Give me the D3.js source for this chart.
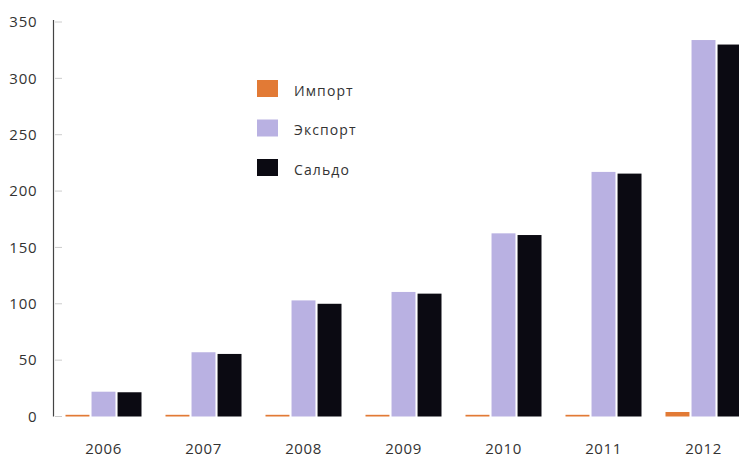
<!DOCTYPE html>
<html><head><meta charset="utf-8">
<script src="https://cdn.jsdelivr.net/npm/d3@7"></script>
<style>html,body{margin:0;padding:0;background:#fff;}svg{display:block;}</style>
</head><body>
<svg id="c" width="739" height="458"></svg>
<script>
const years = ["2006","2007","2008","2009","2010","2011","2012"];
const importVals = [1.5, 1.5, 1.5, 1.5, 1.5, 1.5, 4];
const exportVals = [22, 57, 103, 110.5, 162.5, 217, 334];
const saldoVals  = [21.5, 55.5, 100, 109, 161, 215.5, 330];
const seriesNames = ["Импорт", "Экспорт", "Сальдо"];
const seriesColors = ["#e27a35", "#b9b1e2", "#0b0a12"];
const yTicks = [0, 50, 100, 150, 200, 250, 300, 350];

const series = [importVals, exportVals, saldoVals];
const svg = d3.select("#c");
const font = "'Open Sans', 'DejaVu Sans', sans-serif";

const y = d3.scaleLinear().domain([0, 350]).range([416.5, 22]);
const x = d3.scaleBand().domain(years).range([53.5, 753.5]).padding(0);
const xi = d3.scaleBand().domain(d3.range(3)).range([12, 88]).paddingInner(0.08).paddingOuter(0);

// bars
const groups = svg.append("g").selectAll("g").data(years).join("g")
  .attr("transform", d => `translate(${x(d)},0)`);
groups.selectAll("rect").data((d, i) => series.map((s, k) => ({k, v: s[i]})))
  .join("rect")
  .attr("x", d => xi(d.k))
  .attr("width", xi.bandwidth())
  .attr("y", d => y(d.v))
  .attr("height", d => y(0) - y(d.v))
  .attr("fill", d => seriesColors[d.k]);

// y axis
const yAxis = d3.axisLeft(y).tickValues(yTicks).tickSize(0).tickPadding(16);
const ga = svg.append("g").attr("transform", "translate(53.5,0)").call(yAxis);
ga.select(".domain").attr("d", "M0,20V416.5").attr("stroke", "#444").attr("stroke-width", 1.2);
ga.selectAll("text").attr("font-family", font).attr("font-size", 15)
  .attr("letter-spacing", 0.8).attr("fill", "#333");
// faint tick marks to the right
svg.append("g").selectAll("line").data(yTicks).join("line")
  .attr("x1", 55).attr("x2", 62)
  .attr("y1", d => y(d)).attr("y2", d => y(d))
  .attr("stroke", "#ccc").attr("stroke-width", 1);

// x axis labels
const xAxis = d3.axisBottom(x).tickSize(0).tickPadding(0);
const gx = svg.append("g").attr("transform", "translate(0,443)").call(xAxis);
gx.select(".domain").remove();
gx.selectAll("text").attr("font-family", font).attr("font-size", 15)
  .attr("letter-spacing", 0.6).attr("fill", "#333");

// legend
const lg = svg.append("g").attr("transform", "translate(257,80)");
const li = lg.selectAll("g").data(seriesNames).join("g")
  .attr("transform", (d, i) => `translate(0,${i * 39.5})`);
li.append("rect").attr("width", 21).attr("height", 17).attr("fill", (d, i) => seriesColors[i]);
li.append("text").attr("x", 37).attr("y", 11).attr("dy", "0.35em")
  .attr("font-family", font).attr("font-size", 14).attr("letter-spacing", 1.1)
  .attr("fill", "#333").text(d => d);
</script>
</body></html>
